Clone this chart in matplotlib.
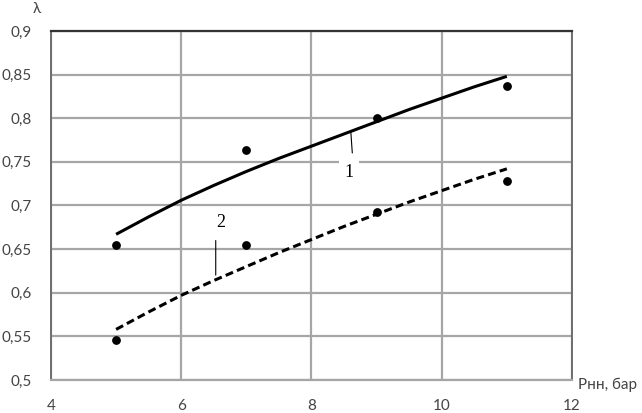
import matplotlib
matplotlib.use('Agg')
import matplotlib.pyplot as plt

# --- dados ---
x_pts = [5, 7, 9, 11]
y_pts_1 = [0.655, 0.764, 0.800, 0.837]
y_pts_2 = [0.546, 0.655, 0.692, 0.728]

x_curva = [5, 5.5, 6, 6.5, 7, 7.5, 8, 8.5, 9, 9.5, 10, 10.5, 11]
curva_1 = [0.667, 0.687, 0.706, 0.723, 0.739, 0.754, 0.768,
           0.782, 0.796, 0.810, 0.823, 0.836, 0.848]
curva_2 = [0.558, 0.578, 0.597, 0.614, 0.630, 0.646, 0.661,
           0.676, 0.690, 0.704, 0.717, 0.730, 0.742]

x_ticks = [4, 6, 8, 10, 12]
y_ticks = [0.5, 0.55, 0.6, 0.65, 0.7, 0.75, 0.8, 0.85, 0.9]
y_labels = ['0,5', '0,55', '0,6', '0,65', '0,7', '0,75', '0,8', '0,85', '0,9']

fig = plt.figure(figsize=(6.42, 4.13), dpi=100)
ax = fig.add_axes([0.0794, 0.0799, 0.8115, 0.8451])

ax.set_xlim(4, 12)
ax.set_ylim(0.5, 0.9)
ax.set_xticks(x_ticks)
ax.set_xticklabels([str(v) for v in x_ticks])
ax.set_yticks(y_ticks)
ax.set_yticklabels(y_labels)
ax.tick_params(length=0, labelsize=11, colors='#444444')
ax.tick_params(axis='x', pad=14)
ax.tick_params(axis='y', pad=14)
for lab in ax.get_xticklabels() + ax.get_yticklabels():
    lab.set_family('Lato')

ax.grid(True, color='#a6a6a6', linewidth=1.6)
ax.set_axisbelow(True)
for side in ['left', 'right']:
    ax.spines[side].set_color('#6e6e6e')
    ax.spines[side].set_linewidth(1.4)
ax.spines['top'].set_color('#333333')
ax.spines['top'].set_linewidth(1.6)
ax.spines['bottom'].set_color('#a6a6a6')
ax.spines['bottom'].set_linewidth(1.6)

# curvas
ax.plot(x_curva, curva_1, color='black', linewidth=2.2, solid_capstyle='butt')
ax.plot(x_curva, curva_2, color='black', linewidth=2.2, linestyle=(0, (2.6, 1.4)))
ax.scatter(x_pts, y_pts_1, s=28, color='black', zorder=5)
ax.scatter(x_pts, y_pts_2, s=28, color='black', zorder=5)

# rótulos das curvas
ax.annotate('', xy=(8.6, 0.789), xytext=(8.63, 0.757),
            arrowprops=dict(arrowstyle='-', color='black', lw=0.8))
ax.text(8.58, 0.738, '1', fontsize=13, family='Liberation Serif',
        ha='center', va='center',
        bbox=dict(facecolor='white', edgecolor='none', pad=4))
ax.annotate('', xy=(6.53, 0.617), xytext=(6.53, 0.663),
            arrowprops=dict(arrowstyle='-', color='black', lw=0.8))
ax.text(6.6, 0.681, '2', fontsize=13, family='Liberation Serif',
        ha='center', va='center')

fig.text(37 / 642, 1 - 9 / 413, 'λ', fontsize=11, family='Lato',
         color='#444444', ha='center', va='center')
fig.text(578 / 642, 1 - 385 / 413, 'Рнн, бар', fontsize=11, family='Lato',
         color='#444444', ha='left', va='center')

fig.savefig('out.png', dpi=100)
